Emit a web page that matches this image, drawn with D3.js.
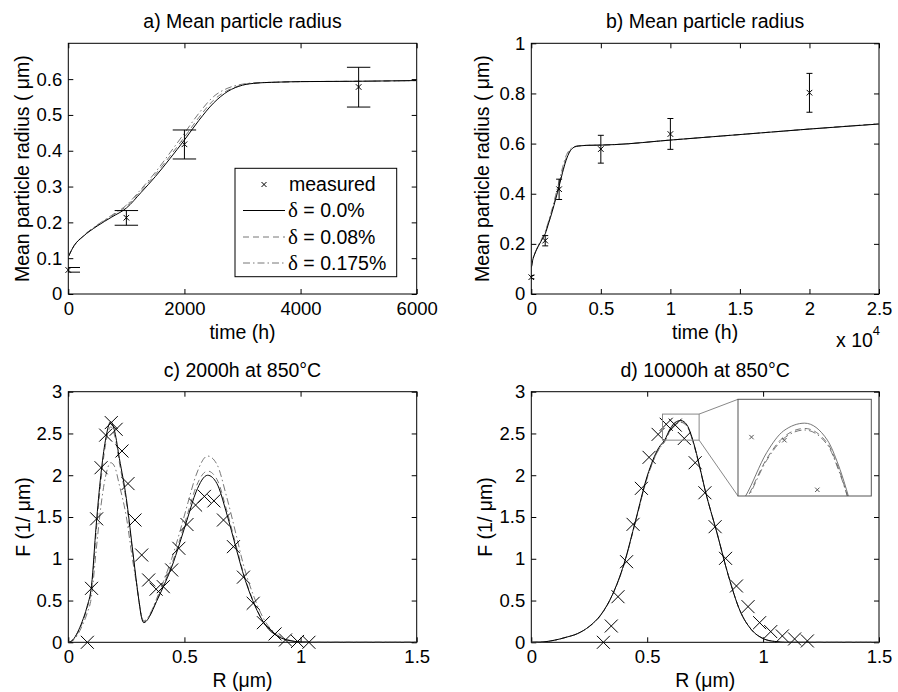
<!DOCTYPE html>
<html lang="en">
<head>
<meta charset="UTF-8">
<title>Mean particle radius and size distributions</title>
<style>
  body { margin: 0; background: #fff; }
  svg { display: block; font-family: 'Liberation Sans', Arial, sans-serif; }
  .box { fill: none; stroke: #000; stroke-width: 1; }
  .tick line { stroke: #000; stroke-width: 1; }
  .tick text { font-size: 18.5px; fill: #000; font-family: 'Liberation Sans', Arial, sans-serif; }
  .title, .label { font-size: 19.5px; fill: #000; }
  .solid { fill: none; stroke: #000; stroke-width: 1; }
  .dashed { fill: none; stroke: #777; stroke-width: 1; stroke-dasharray: 6 4; }
  .dashdot { fill: none; stroke: #777; stroke-width: 1; stroke-dasharray: 7 3 1.5 3; }
  .mark { stroke: #000; stroke-width: 1; fill: none; }
  .err { stroke: #000; stroke-width: 1; }
</style>
</head>
<body>
<div id="chart"></div>
<script src="https://cdn.jsdelivr.net/npm/d3@7"></script>
<script>
// ---- data: mean radius vs time (panels a, b) ----
const tModel = [0, 100, 250, 500, 750, 1000, 1250, 1500, 1750, 2000, 2250, 2500, 2750, 3000, 3250, 3500, 4000, 5000, 6000, 10000, 15000, 20000, 25000];
const rSolid = [0.104, 0.135, 0.16, 0.19, 0.215, 0.24, 0.283, 0.328, 0.378, 0.43, 0.485, 0.533, 0.566, 0.583, 0.589, 0.591, 0.593, 0.594, 0.596, 0.614, 0.636, 0.658, 0.678];
const rDash = [0.104, 0.135, 0.161, 0.192, 0.218, 0.245, 0.288, 0.334, 0.385, 0.438, 0.493, 0.541, 0.569, 0.584, 0.589, 0.591, 0.593, 0.594, 0.596, 0.614, 0.636, 0.658, 0.679];
const rDashDot = [0.104, 0.135, 0.161, 0.193, 0.22, 0.248, 0.292, 0.34, 0.394, 0.449, 0.505, 0.551, 0.575, 0.586, 0.59, 0.591, 0.593, 0.594, 0.596, 0.614, 0.636, 0.658, 0.679];

const tMeas = [0, 1000, 2000, 5000, 10000, 20000];
const rMeas = [0.067, 0.213, 0.418, 0.578, 0.638, 0.803];
const rLow = [0.061, 0.192, 0.377, 0.522, 0.577, 0.725];
const rHigh = [0.074, 0.233, 0.458, 0.633, 0.70, 0.88];

// ---- data: size distribution after 2000 h (panel c) ----
const rC = [0, 0.02, 0.04, 0.06, 0.08, 0.1, 0.12, 0.14, 0.16, 0.183, 0.2, 0.22, 0.25, 0.275, 0.29, 0.305, 0.315, 0.325, 0.335, 0.35, 0.38, 0.41, 0.445, 0.48, 0.515, 0.55, 0.6, 0.64, 0.68, 0.725, 0.75, 0.8, 0.85, 0.9, 0.95, 1.0, 1.05, 1.5];
const fCSolid = [0, 0.03, 0.12, 0.25, 0.42, 0.68, 1.4, 2.0, 2.42, 2.64, 2.52, 2.2, 1.72, 1.15, 0.8, 0.48, 0.3, 0.235, 0.25, 0.31, 0.49, 0.67, 0.9, 1.19, 1.5, 1.8, 2.0, 1.9, 1.56, 1.1, 0.85, 0.46, 0.2, 0.075, 0.022, 0.004, 0, 0];
const fCDash = [0, 0.03, 0.11, 0.23, 0.4, 0.64, 1.32, 1.92, 2.36, 2.58, 2.47, 2.15, 1.68, 1.12, 0.79, 0.48, 0.31, 0.245, 0.26, 0.32, 0.5, 0.69, 0.93, 1.23, 1.55, 1.86, 2.05, 1.95, 1.6, 1.13, 0.87, 0.47, 0.2, 0.075, 0.022, 0.004, 0, 0];
const fCDashDot = [0, 0.02, 0.09, 0.2, 0.34, 0.55, 1.1, 1.62, 1.98, 2.15, 2.1, 1.88, 1.5, 1.02, 0.76, 0.48, 0.32, 0.255, 0.27, 0.33, 0.52, 0.73, 1.0, 1.32, 1.67, 2.0, 2.23, 2.13, 1.76, 1.26, 0.97, 0.54, 0.24, 0.09, 0.027, 0.005, 0, 0];
const rCMeas = [0.082, 0.1, 0.122, 0.141, 0.161, 0.185, 0.206, 0.231, 0.257, 0.287, 0.316, 0.346, 0.378, 0.409, 0.445, 0.476, 0.511, 0.548, 0.586, 0.627, 0.668, 0.711, 0.754, 0.796, 0.84, 0.89, 0.935, 0.987, 1.036];
const fCMeas = [0, 0.646, 1.478, 2.09, 2.48, 2.63, 2.55, 2.29, 1.9, 1.464, 1.045, 0.746, 0.636, 0.666, 0.866, 1.125, 1.41, 1.643, 1.747, 1.693, 1.464, 1.145, 0.78, 0.467, 0.235, 0.1, 0.028, 0.01, 0];

// ---- data: size distribution after 10000 h (panel d) ----
const rD = [0, 0.05, 0.1, 0.15, 0.2, 0.25, 0.3, 0.35, 0.4, 0.45, 0.5, 0.55, 0.575, 0.6, 0.62, 0.645, 0.672, 0.685, 0.7, 0.725, 0.75, 0.8, 0.85, 0.9, 0.95, 1.0, 1.05, 1.1, 1.5];
const fDSolid = [0, 0.004, 0.025, 0.06, 0.105, 0.19, 0.33, 0.57, 0.94, 1.46, 1.99, 2.33, 2.42, 2.56, 2.63, 2.655, 2.6, 2.52, 2.39, 2.12, 1.82, 1.32, 0.8, 0.38, 0.15, 0.045, 0.01, 0, 0];
const fDDash = [0, 0.004, 0.025, 0.06, 0.104, 0.188, 0.326, 0.565, 0.93, 1.45, 1.97, 2.31, 2.405, 2.54, 2.61, 2.638, 2.59, 2.51, 2.38, 2.11, 1.82, 1.32, 0.8, 0.38, 0.15, 0.045, 0.01, 0, 0];
const fDDashDot = [0, 0.004, 0.025, 0.06, 0.104, 0.188, 0.326, 0.565, 0.93, 1.45, 1.97, 2.31, 2.4, 2.535, 2.605, 2.633, 2.585, 2.505, 2.38, 2.11, 1.82, 1.32, 0.8, 0.38, 0.15, 0.045, 0.01, 0, 0];
const rDMeas = [0.311, 0.345, 0.374, 0.411, 0.439, 0.475, 0.508, 0.547, 0.582, 0.621, 0.66, 0.707, 0.749, 0.793, 0.838, 0.885, 0.935, 0.985, 1.033, 1.083, 1.136, 1.191];
const fDMeas = [0, 0.195, 0.546, 0.965, 1.412, 1.843, 2.214, 2.489, 2.61, 2.6, 2.44, 2.15, 1.79, 1.384, 1.005, 0.674, 0.427, 0.235, 0.128, 0.076, 0.04, 0.016];

const legendItems = ['measured', 'δ = 0.0%', 'δ = 0.08%', 'δ = 0.175%'];

const width = 898, height = 692;
const svg = d3.select('#chart').append('svg')
  .attr('width', width).attr('height', height);
svg.append('rect').attr('width', width).attr('height', height).attr('fill', '#fff');

let clipId = 0;

function panel(o) {
  const x = d3.scaleLinear().domain(o.xDomain).range([o.left, o.right]);
  const y = d3.scaleLinear().domain(o.yDomain).range([o.bottom, o.top]);
  const g = svg.append('g');
  const id = 'clip' + (clipId++);
  g.append('clipPath').attr('id', id).append('rect')
    .attr('x', o.left).attr('y', o.top)
    .attr('width', o.right - o.left).attr('height', o.bottom - o.top);

  g.append('g').attr('transform', `translate(0,${o.bottom})`)
    .call(d3.axisBottom(x).tickValues(o.xTicks).tickSize(-5).tickPadding(8).tickFormat(o.xFmt))
    .call(s => s.select('.domain').remove());
  g.append('g').attr('transform', `translate(0,${o.top})`)
    .call(d3.axisTop(x).tickValues(o.xTicks).tickSize(-5).tickFormat(''))
    .call(s => s.select('.domain').remove());
  g.append('g').attr('transform', `translate(${o.left},0)`)
    .call(d3.axisLeft(y).tickValues(o.yTicks).tickSize(-5).tickPadding(6).tickFormat(o.yFmt))
    .call(s => s.select('.domain').remove());
  g.append('g').attr('transform', `translate(${o.right},0)`)
    .call(d3.axisRight(y).tickValues(o.yTicks).tickSize(-5).tickFormat(''))
    .call(s => s.select('.domain').remove());
  g.selectAll('g').attr('font-size', null).attr('font-family', null);

  g.append('rect').attr('class', 'box')
    .attr('x', o.left).attr('y', o.top)
    .attr('width', o.right - o.left).attr('height', o.bottom - o.top);

  g.append('text').attr('class', 'title')
    .attr('x', (o.left + o.right) / 2).attr('y', o.top - 15)
    .attr('text-anchor', 'middle').text(o.title);
  g.append('text').attr('class', 'label')
    .attr('x', (o.left + o.right) / 2).attr('y', o.bottom + 45)
    .attr('text-anchor', 'middle').text(o.xLabel);
  g.append('text').attr('class', 'label')
    .attr('transform', `translate(${o.yLabelX},${(o.top + o.bottom) / 2}) rotate(-90)`)
    .attr('text-anchor', 'middle').attr('dy', '0.35em').text(o.yLabel);

  const plot = g.append('g').attr('clip-path', `url(#${id})`);
  return { x, y, g, plot, xDomain: o.xDomain };
}

function lines(p, xs, series) {
  series.forEach(([ys, cls]) => {
    const line = d3.line().curve(d3.curveMonotoneX)
      .x((d, i) => p.x(xs[i])).y(d => p.y(d));
    p.plot.append('path').attr('class', cls).attr('d', line(ys));
  });
}

// x-shaped markers; only those whose x lies inside the axis range
function crosses(p, xs, ys, half, color) {
  const [x0, x1] = p.x.domain();
  const idx = xs.map((d, i) => i).filter(i => xs[i] >= x0 && xs[i] <= x1);
  const sel = p.g.append('g').selectAll('path').data(idx).join('path')
    .attr('class', 'mark')
    .attr('d', i => {
      const cx = p.x(xs[i]), cy = p.y(ys[i]);
      return `M${cx - half},${cy - half}L${cx + half},${cy + half}M${cx - half},${cy + half}L${cx + half},${cy - half}`;
    });
  if (color) sel.style('stroke', color);
  return sel;
}

function errorBars(p, capHalf) {
  const eb = p.plot.append('g').selectAll('g').data(tMeas).join('g');
  eb.append('line').attr('class', 'err')
    .attr('x1', d => p.x(d)).attr('x2', d => p.x(d))
    .attr('y1', (d, i) => p.y(rLow[i])).attr('y2', (d, i) => p.y(rHigh[i]));
  [rLow, rHigh].forEach(arr => {
    eb.append('line').attr('class', 'err')
      .attr('x1', d => p.x(d) - capHalf).attr('x2', d => p.x(d) + capHalf)
      .attr('y1', (d, i) => p.y(arr[i])).attr('y2', (d, i) => p.y(arr[i]));
  });
}

const fmt = d => String(d);

// a) mean radius, first 6000 h
const pa = panel({
  left: 68.3, right: 416.7, top: 43.3, bottom: 294,
  xDomain: [0, 6000], yDomain: [0, 0.7],
  xTicks: [0, 2000, 4000, 6000], yTicks: [0, 0.1, 0.2, 0.3, 0.4, 0.5, 0.6],
  xFmt: fmt, yFmt: fmt,
  title: 'a) Mean particle radius', xLabel: 'time (h)',
  yLabel: 'Mean particle radius ( μm)', yLabelX: 22
});
lines(pa, tModel, [[rDashDot, 'dashdot'], [rDash, 'dashed'], [rSolid, 'solid']]);
errorBars(pa, 11.7);
crosses(pa, tMeas, rMeas, 2.8);

// legend
const lg = pa.g.append('g');
lg.append('rect').attr('class', 'box').attr('x', 235).attr('y', 168.3)
  .attr('width', 161.7).attr('height', 108.4).style('fill', '#fff');
const legY = [184.5, 210.5, 237, 263];
const legCls = [null, 'solid', 'dashed', 'dashdot'];
legendItems.forEach((name, i) => {
  if (i === 0) {
    lg.append('path').attr('class', 'mark')
      .attr('d', `M261.5,${legY[0] - 2.5}L266.5,${legY[0] + 2.5}M261.5,${legY[0] + 2.5}L266.5,${legY[0] - 2.5}`);
  } else {
    lg.append('line').attr('class', legCls[i])
      .attr('x1', 243).attr('x2', 285).attr('y1', legY[i]).attr('y2', legY[i]);
  }
  const t = lg.append('text').attr('class', 'label').attr('x', 288).attr('y', legY[i]).attr('dy', '0.35em');
  if (name.startsWith('δ')) {
    t.append('tspan').attr('font-family', "'Liberation Serif', 'Times New Roman', serif").attr('font-size', 21).text('δ');
    t.append('tspan').text(name.slice(1));
  } else {
    t.attr('x', 289).text(name);
  }
});

// b) mean radius, full 25000 h
const pb = panel({
  left: 531.3, right: 879, top: 43.3, bottom: 294,
  xDomain: [0, 25000], yDomain: [0, 1],
  xTicks: [0, 5000, 10000, 15000, 20000, 25000], yTicks: [0, 0.2, 0.4, 0.6, 0.8, 1],
  xFmt: d => String(d / 10000), yFmt: fmt,
  title: 'b) Mean particle radius', xLabel: 'time (h)',
  yLabel: 'Mean particle radius ( μm)', yLabelX: 482
});
lines(pb, tModel, [[rDashDot, 'dashdot'], [rDash, 'dashed'], [rSolid, 'solid']]);
errorBars(pb, 3);
crosses(pb, tMeas, rMeas, 2.8);
const ex = pb.g.append('text').attr('class', 'label').attr('x', 836).attr('y', 347);
ex.append('tspan').text('x 10');
ex.append('tspan').attr('font-size', 13).attr('dy', -12).text('4');

// c) distribution after 2000 h
const pc = panel({
  left: 68.3, right: 416.7, top: 391.7, bottom: 642.3,
  xDomain: [0, 1.5], yDomain: [0, 3],
  xTicks: [0, 0.5, 1, 1.5], yTicks: [0, 0.5, 1, 1.5, 2, 2.5, 3],
  xFmt: fmt, yFmt: fmt,
  title: 'c) 2000h at 850\u00B0C', xLabel: 'R (μm)',
  yLabel: 'F (1/ μm)', yLabelX: 23
});
lines(pc, rC, [[fCDashDot, 'dashdot'], [fCDash, 'dashed'], [fCSolid, 'solid']]);
crosses(pc, rCMeas, fCMeas, 6.5);

// d) distribution after 10000 h
const pd = panel({
  left: 531.3, right: 879, top: 391.7, bottom: 642.3,
  xDomain: [0, 1.5], yDomain: [0, 3],
  xTicks: [0, 0.5, 1, 1.5], yTicks: [0, 0.5, 1, 1.5, 2, 2.5, 3],
  xFmt: fmt, yFmt: fmt,
  title: 'd) 10000h at 850\u00B0C', xLabel: 'R (μm)',
  yLabel: 'F (1/ μm)', yLabelX: 485
});
lines(pd, rD, [[fDDashDot, 'dashdot'], [fDDash, 'dashed'], [fDSolid, 'solid']]);
crosses(pd, rDMeas, fDMeas, 6.5);

// zoom box + inset on d
const zx = [0.566, 0.724], zy = [2.42, 2.732];
const inset = { left: 738, right: 871.3, top: 399.3, bottom: 496 };
pd.g.append('rect').attr('x', pd.x(zx[0])).attr('y', pd.y(zy[1]))
  .attr('width', pd.x(zx[1]) - pd.x(zx[0])).attr('height', pd.y(zy[0]) - pd.y(zy[1]))
  .attr('fill', 'none').attr('stroke', '#888');
pd.g.append('line').attr('x1', pd.x(zx[1])).attr('y1', pd.y(zy[1]))
  .attr('x2', inset.left).attr('y2', inset.top).attr('stroke', '#888');
pd.g.append('line').attr('x1', pd.x(zx[1])).attr('y1', pd.y(zy[0]))
  .attr('x2', inset.left).attr('y2', inset.bottom).attr('stroke', '#888');

const ix = d3.scaleLinear().domain(zx).range([inset.left, inset.right]);
const iy = d3.scaleLinear().domain(zy).range([inset.bottom, inset.top]);
const ig = svg.append('g');
ig.append('rect').attr('x', inset.left).attr('y', inset.top)
  .attr('width', inset.right - inset.left).attr('height', inset.bottom - inset.top)
  .attr('fill', '#fff');
ig.append('clipPath').attr('id', 'insetClip').append('rect')
  .attr('x', inset.left).attr('y', inset.top)
  .attr('width', inset.right - inset.left).attr('height', inset.bottom - inset.top);
const ip = { x: ix, y: iy, g: ig, plot: ig.append('g').attr('clip-path', 'url(#insetClip)') };
lines(ip, rD, [[fDDashDot, 'dashdot'], [fDDash, 'dashed'], [fDSolid, 'solid']]);
ip.plot.selectAll('path').style('stroke', '#666').style('stroke-width', 0.9);
const inPts = rDMeas.map((r, i) => i).filter(i => fDMeas[i] >= zy[0] && fDMeas[i] <= zy[1]);
crosses(ip, inPts.map(i => rDMeas[i]), inPts.map(i => fDMeas[i]), 2.2, '#555');
ig.append('rect').attr('x', inset.left).attr('y', inset.top)
  .attr('width', inset.right - inset.left).attr('height', inset.bottom - inset.top)
  .attr('fill', 'none').attr('stroke', '#555').attr('stroke-width', 1);
</script>
</body>
</html>
